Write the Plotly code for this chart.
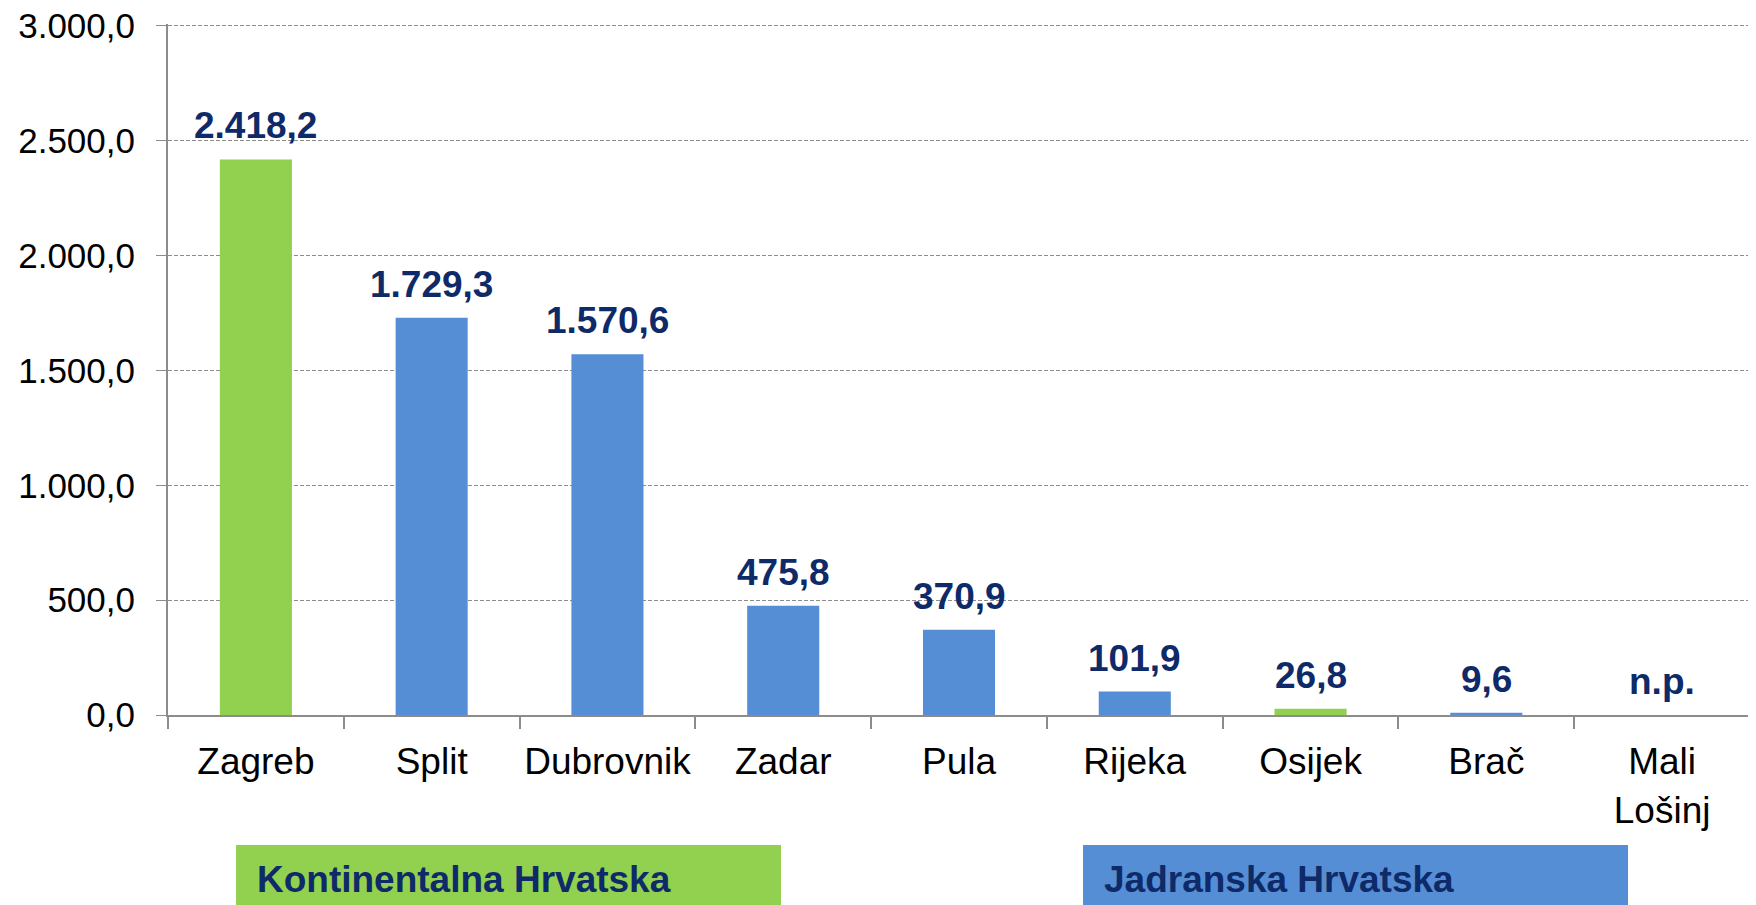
import plotly.graph_objects as go

categories = ["Zagreb", "Split", "Dubrovnik", "Zadar", "Pula", "Rijeka", "Osijek", "Brač", "Mali<br>Lošinj"]
values = [2418.2, 1729.3, 1570.6, 475.8, 370.9, 101.9, 26.8, 9.6, None]
labels = ["2.418,2", "1.729,3", "1.570,6", "475,8", "370,9", "101,9", "26,8", "9,6", "n.p."]
regions = ["K", "J", "J", "J", "J", "J", "K", "J", "J"]
y_ticks = [0, 500, 1000, 1500, 2000, 2500, 3000]
group_labels = ["Kontinentalna Hrvatska", "Jadranska Hrvatska"]

GREEN = "#92D050"
BLUE = "#558ED5"
NAVY = "#0E2A68"
FONT = "Liberation Sans, Arial, sans-serif"

colors = [GREEN if r == "K" else BLUE for r in regions]

fig = go.Figure()
fig.add_trace(go.Bar(
    x=categories,
    y=[v if v is not None else 0 for v in values],
    marker=dict(color=colors, line=dict(width=0)),
    hoverinfo="skip",
))

for c, v, t in zip(categories, values, labels):
    fig.add_annotation(
        x=c, y=v if v is not None else 0, xref="x", yref="y",
        text="<b>%s</b>" % t, showarrow=False,
        yanchor="bottom", xanchor="center", yshift=11,
        font=dict(family=FONT, size=37, color=NAVY),
    )

# group boxes
boxes = [(0.043, 0.3875, GREEN, group_labels[0]), (0.5784, 0.9229, BLUE, group_labels[1])]
for x0, x1, col, txt in boxes:
    fig.add_shape(type="rect", xref="paper", yref="paper",
                  x0=x0, x1=x1, y0=-0.30, y1=-0.188,
                  fillcolor=col, line=dict(width=0), layer="above")
    fig.add_annotation(x=x0 + 0.012, y=-0.238, xref="paper", yref="paper",
                       text="<b>%s</b>" % txt, showarrow=False,
                       xanchor="left", yanchor="middle",
                       font=dict(family=FONT, size=37, color=NAVY))

# page body has an 8px default margin; compensate
fig.update_layout(
    width=1748, height=897,
    margin=dict(l=160, r=6, t=16, b=190, autoexpand=False),
    plot_bgcolor="white", paper_bgcolor="white",
    separators=",.",
    bargap=0.59,
    showlegend=False,
    font=dict(family=FONT, size=36, color="black"),
)
fig.update_xaxes(
    type="category", automargin=False, tickangle=0,
    showline=True, linecolor="#8C8C8C", linewidth=2,
    ticks="outside", ticklen=12, tickcolor="#8C8C8C", tickwidth=2,
    tickson="boundaries",
    showgrid=False,
    tickfont=dict(family=FONT, size=37, color="black"),
    ticklabelstandoff=13,
    ticklabeloverflow="allow",
)
fig.update_yaxes(
    range=[0, 3008], automargin=False,
    tickvals=y_ticks, tickformat=",.1f",
    showline=True, linecolor="#8C8C8C", linewidth=2,
    ticks="outside", ticklen=10, tickcolor="#8C8C8C", tickwidth=1,
    showgrid=True, gridcolor="#8C8C8C", gridwidth=1, griddash="4px,2px",
    zeroline=False,
    tickfont=dict(family=FONT, size=35, color="black"),
    ticklabelstandoff=14,
    ticklabeloverflow="allow",
)

fig.write_html("out.html")
